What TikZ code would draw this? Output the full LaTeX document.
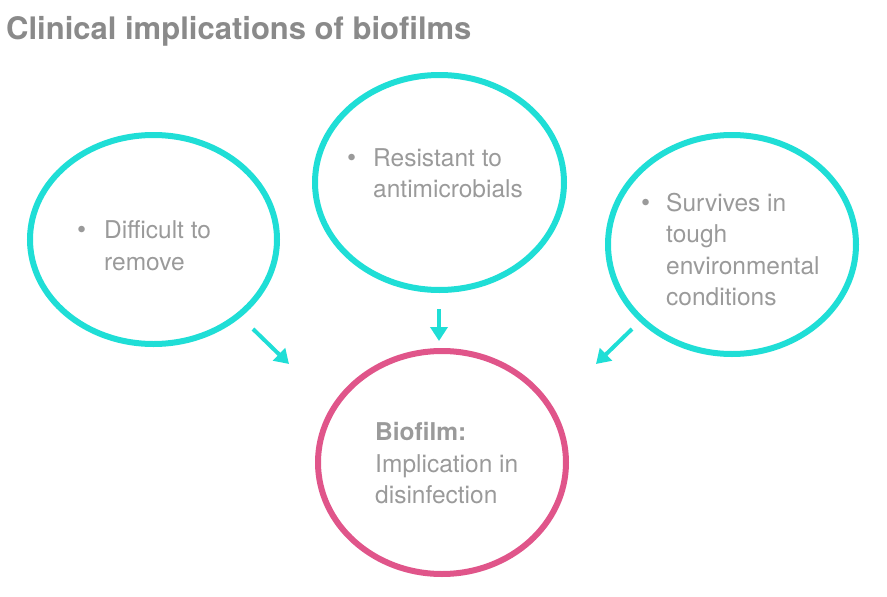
\documentclass[tikz,border=0pt]{standalone}
\usepackage{fontspec}
\setmainfont{TeX Gyre Heros}
\usetikzlibrary{shapes.geometric,arrows.meta}
\definecolor{cyanring}{HTML}{1FDED6}
\definecolor{pinkring}{HTML}{E0558A}
\definecolor{bodygray}{HTML}{9A9A9A}
\definecolor{titlegray}{HTML}{8A8A8A}
\tikzset{
  ring/.style={ellipse, draw, line width=6pt, inner sep=0pt},
  cyanr/.style={ring, draw=cyanring},
  pinkr/.style={ring, draw=pinkring},
  txt/.style={anchor=base west, inner sep=0pt, text=bodygray, font=\fontsize{24.5}{31.5}\selectfont},
  bul/.style={txt, font=\fontsize{26}{31.5}\selectfont},
  conn/.style={draw=cyanring, line width=4pt, -{Triangle[length=14pt,width=17pt]}}
}
\begin{document}
\begin{tikzpicture}[x=1pt,y=-1pt]
\useasboundingbox (0,0) rectangle (887,597);
\node[anchor=base west, inner sep=0pt, text=titlegray, font=\fontsize{31}{36}\selectfont\bfseries] (title) at (6,39) {Clinical implications of biofilms};

\node[cyanr, minimum width=247pt, minimum height=209pt] (left) at (153.5,239.5) {};
\node[cyanr, minimum width=249pt, minimum height=215pt] (top) at (439.5,182.5) {};
\node[cyanr, minimum width=248pt, minimum height=219pt] (right) at (732,244.5) {};
\node[pinkr, minimum width=248pt, minimum height=223pt] (bottom) at (442,462.5) {};

% left text
\node[bul] (lb) at (77,238) {•};
\node[txt] (l1) at (104,238) {Difficult to};
\node[txt] (l2) at (104,270) {remove};
% top text
\node[bul] (tb) at (347,166) {•};
\node[txt] (t1) at (373,166) {Resistant to};
\node[txt] (t2) at (373,197) {antimicrobials};
% right text
\node[bul] (rb) at (641,211) {•};
\node[txt] (r1) at (666,211) {Survives in};
\node[txt] (r2) at (666,242) {tough};
\node[txt] (r3) at (666,274) {environmental};
\node[txt] (r4) at (666,305) {conditions};
% bottom text
\node[txt, font=\fontsize{24.5}{31.5}\selectfont\bfseries] (b1) at (375,440) {Biofilm:};
\node[txt] (b2) at (375,472) {Implication in};
\node[txt] (b3) at (375,503) {disinfection};

% connectors
\coordinate (la) at (253,329);
\coordinate (lt) at (289,364);
\coordinate (ma) at (439,309);
\coordinate (mt) at (439,341);
\coordinate (ra) at (632,329);
\coordinate (rt) at (596,364);
\draw[conn] (la) -- (lt);
\draw[conn] (ma) -- (mt);
\draw[conn] (ra) -- (rt);
\end{tikzpicture}
\end{document}
